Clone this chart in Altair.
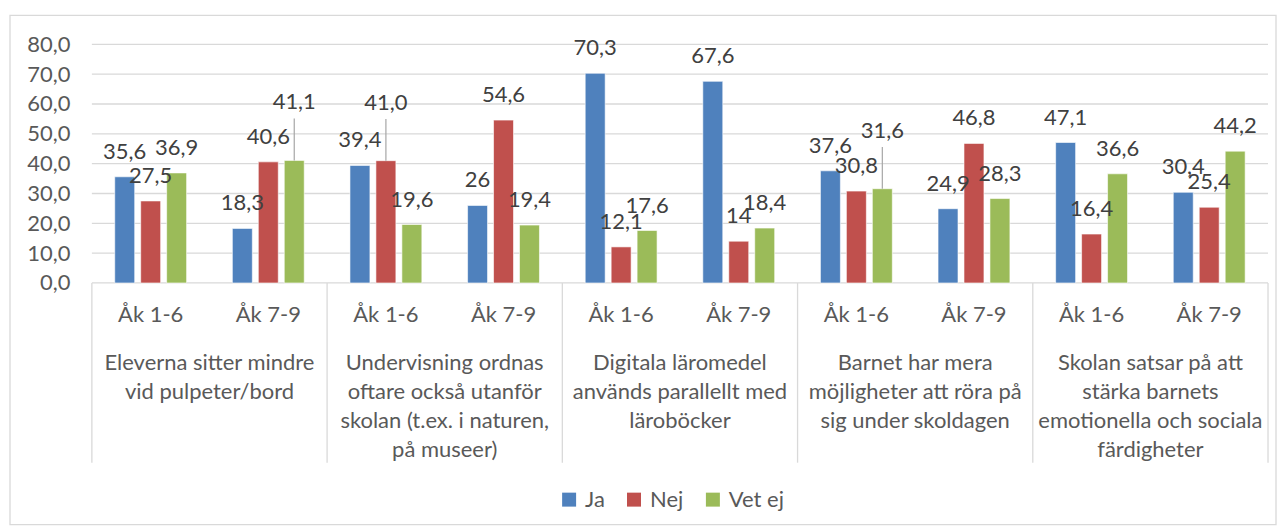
import altair as alt
import pandas as pd

# ---- data ----
groups = [
    "Eleverna sitter mindre\nvid pulpeter/bord",
    "Undervisning ordnas\noftare också utanför\nskolan (t.ex. i naturen,\npå museer)",
    "Digitala läromedel\nanvänds parallellt med\nläroböcker",
    "Barnet har mera\nmöjligheter att röra på\nsig under skoldagen",
    "Skolan satsar på att\nstärka barnets\nemotionella och  sociala\nfärdigheter",
]
grades = ["Åk 1-6", "Åk 7-9"]
series = ["Ja", "Nej", "Vet ej"]
ja = [35.6, 18.3, 39.4, 26, 70.3, 67.6, 37.6, 24.9, 47.1, 30.4]
nej = [27.5, 40.6, 41.0, 54.6, 12.1, 14, 30.8, 46.8, 16.4, 25.4]
vet_ej = [36.9, 41.1, 19.6, 19.4, 17.6, 18.4, 31.6, 28.3, 36.6, 44.2]
y_ticks = [0, 10, 20, 30, 40, 50, 60, 70, 80]

# labels that Excel moved up and linked with a leader line (cluster index, series)
raised = [(1, "Vet ej"), (2, "Nej"), (6, "Vet ej")]

colors = ["#4F81BD", "#C0504D", "#9BBB59"]
FONT = "Lato"
TXT = "#595959"
GRID = "#D9D9D9"
W, H = 1178, 239

keys = [f"{gi}|{g}" for gi in range(len(groups)) for g in grades]


def fmt(v):
    if isinstance(v, int):
        return str(v)
    return f"{v:.1f}".replace(".", ",")


rows = []
for s, vals in zip(series, [ja, nej, vet_ej]):
    for i, v in enumerate(vals):
        rows.append({
            "key": keys[i], "series": s, "value": float(v), "label": fmt(v),
            "raised": (i, s) in raised, "top": float(v) + 14,
        })
df = pd.DataFrame(rows)

sub_df = pd.DataFrame({"key": keys, "sub": [k.split("|")[1] for k in keys]})
grp_df = pd.DataFrame({"key": [f"{gi}|{grades[0]}" for gi in range(len(groups))], "name": groups})
last_df = pd.DataFrame({"key": [keys[-1]]})
frame_df = pd.DataFrame({"a": [0]})
tick_df = pd.DataFrame({"t": y_ticks})

xscale = alt.Scale(domain=keys, paddingInner=0, paddingOuter=0)
x_enc = alt.X("key:N", scale=xscale, axis=None)
xoff = alt.XOffset("series:N", scale=alt.Scale(domain=series, paddingInner=0.2308, paddingOuter=0.881))
yscale = alt.Scale(domain=[0, 80], nice=False)
y_axis = alt.Axis(values=y_ticks, labelExpr="replace(format(datum.value,'.1f'),'.',',')",
                  domain=False, ticks=False, tickSize=0, grid=False, labelOverlap=False,
                  labelFont=FONT, labelFontSize=22, labelColor=TXT, labelPadding=22,
                  title=None)


def yenc(field):
    return alt.Y(field, scale=yscale, axis=y_axis)


frame = alt.Chart(frame_df).mark_rect(fill="transparent", stroke=GRID, strokeWidth=1.3).encode(
    x=alt.value(-82), x2=alt.value(W + 8), y=alt.value(-29), y2=alt.value(H + 242)
)

gridlines = alt.Chart(tick_df).mark_rule(color=GRID, strokeWidth=1.3).encode(
    y=yenc("t:Q"), x=alt.value(0), x2=alt.value(W),
)

bars = alt.Chart(df).mark_bar(stroke="white", strokeWidth=0.6).encode(
    x=x_enc,
    xOffset=xoff,
    y=yenc("value:Q"),
    color=alt.Color("series:N", scale=alt.Scale(domain=series, range=colors),
                    legend=alt.Legend(orient="none", legendX=467, legendY=445,
                                      direction="horizontal", title=None, symbolType="square",
                                      symbolSize=196, symbolStrokeWidth=0, labelFont=FONT,
                                      labelFontSize=22, labelColor=TXT, columnPadding=18,
                                      labelOffset=5, padding=0)),
)

labels_normal = alt.Chart(df).transform_filter("!datum.raised").mark_text(
    font=FONT, fontSize=22, color="#404040", baseline="alphabetic", dy=-18
).encode(x=x_enc, xOffset=xoff, y=yenc("value:Q"), text="label:N")

labels_raised = alt.Chart(df).transform_filter("datum.raised").mark_text(
    font=FONT, fontSize=22, color="#404040", baseline="alphabetic", dy=-51
).encode(x=x_enc, xOffset=xoff, y=yenc("value:Q"), text="label:N")

leaders = alt.Chart(df).transform_filter("datum.raised").mark_rule(
    color="#A6A6A6", strokeWidth=1.2
).encode(x=x_enc, xOffset=xoff, y=yenc("value:Q"), y2="top:Q")

sub_text = alt.Chart(sub_df).mark_text(
    font=FONT, fontSize=22, color=TXT, baseline="alphabetic"
).encode(x=x_enc, y=alt.value(H + 39), text="sub:N")

grp_text = alt.Chart(grp_df).mark_text(
    font=FONT, fontSize=22, color=TXT, baseline="top", lineBreak="\n", lineHeight=29
).encode(x=alt.X("key:N", scale=xscale, axis=None, bandPosition=1),
         y=alt.value(H + 70), text="name:N")

dividers = alt.Chart(grp_df).mark_rule(color=GRID, strokeWidth=1.3).encode(
    x=alt.X("key:N", scale=xscale, axis=None, bandPosition=0),
    y=alt.value(H), y2=alt.value(H + 180)
)
divider_end = alt.Chart(last_df).mark_rule(color=GRID, strokeWidth=1.3).encode(
    x=alt.X("key:N", scale=xscale, axis=None, bandPosition=1),
    y=alt.value(H), y2=alt.value(H + 180)
)

chart = alt.layer(
    frame, gridlines, bars, leaders, labels_normal, labels_raised, sub_text, grp_text,
    dividers, divider_end
).properties(
    width=W, height=H,
    padding={"left": 84, "top": 36, "right": 9, "bottom": 243},
    autosize=alt.AutoSizeParams(type="none"),
    background="white",
).configure_view(strokeWidth=0)

chart.save("out.html", embed_options={"renderer": "svg", "actions": False})
